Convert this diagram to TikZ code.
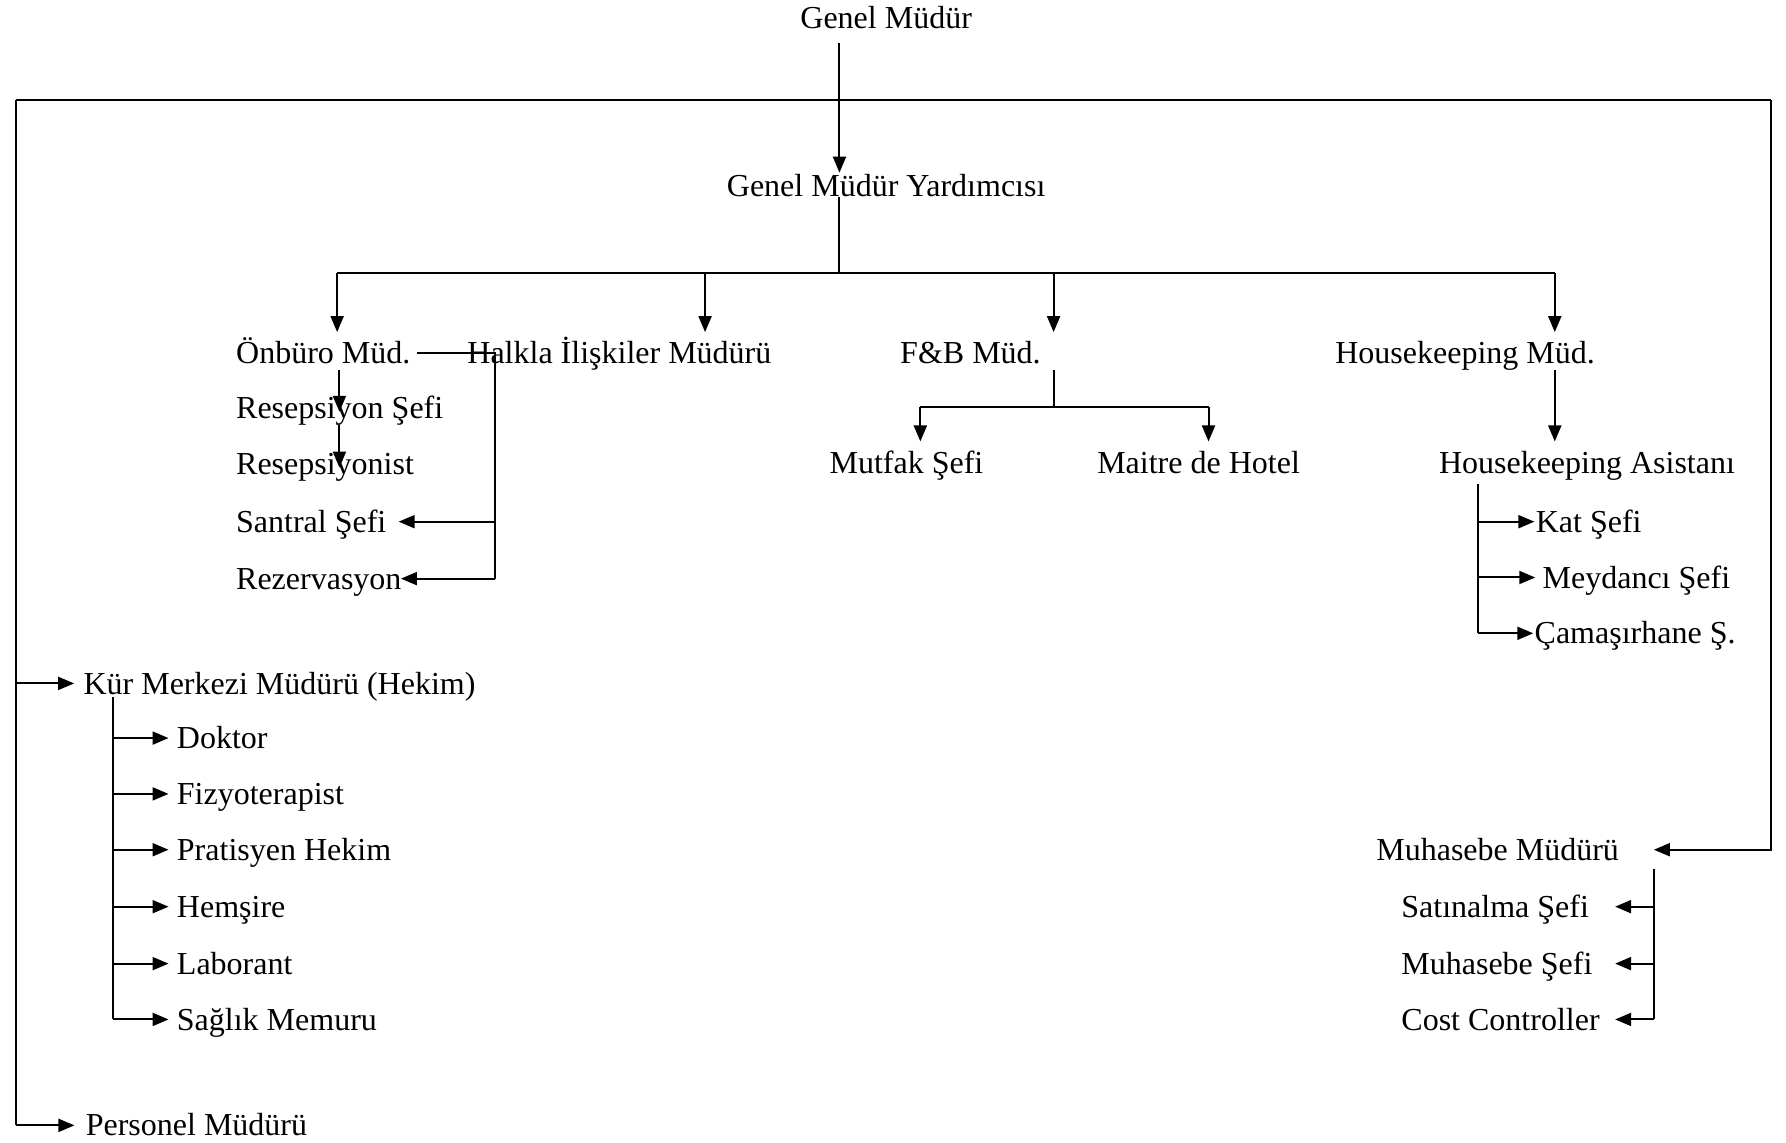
\documentclass[tikz,border=0pt]{standalone}
\usepackage{fontspec}
\setmainfont{Liberation Serif}
\usetikzlibrary{arrows.meta}
\begin{document}
\begin{tikzpicture}[x=0.5695pt,y=-0.5695pt,
  lbl/.style={inner sep=0pt,anchor=west,font=\fontsize{16}{19}\selectfont,text height=10.6pt,text depth=0pt},
  ctr/.style={lbl,anchor=center},
  ln/.style={line width=1pt},
  arr/.style={line width=1pt,-{Triangle[length=8pt,width=6.5pt]}}]
\useasboundingbox[fill=white] (0,0) rectangle (1568,1003);

% nodes
\node[ctr] (gm)  at (778,16)  {Genel Müdür};
\node[ctr] (gmy) at (778,163) {Genel Müdür Yardımcısı};
\node[lbl] (onb) at (207,310) {Önbüro Müd.};
\node[lbl] (hal) at (410,310) {Halkla İlişkiler Müdürü};
\node[lbl] (fb)  at (790,310) {F\&B Müd.};
\node[lbl] (hk)  at (1172,310) {Housekeeping Müd.};
\node[lbl] (rs)  at (207,358) {Resepsiyon Şefi};
\node[lbl] (rn)  at (207,407) {Resepsiyonist};
\node[lbl] (ss)  at (207,458) {Santral Şefi};
\node[lbl] (rz)  at (207,508) {Rezervasyon};
\node[lbl] (mf)  at (728,406) {Mutfak Şefi};
\node[lbl] (mh)  at (963,406) {Maitre de Hotel};
\node[lbl] (hka) at (1263,406) {Housekeeping Asistanı};
\node[lbl] (kat) at (1348,458) {Kat Şefi};
\node[lbl] (mey) at (1354,507) {Meydancı Şefi};
\node[lbl] (cam) at (1347,556) {Çamaşırhane Ş.};
\node[lbl] (kur) at (73,600)  {Kür Merkezi Müdürü (Hekim)};
\node[lbl] (dok) at (155,648) {Doktor};
\node[lbl] (fiz) at (155,697) {Fizyoterapist};
\node[lbl] (pra) at (155,746) {Pratisyen Hekim};
\node[lbl] (hem) at (155,796) {Hemşire};
\node[lbl] (lab) at (155,846) {Laborant};
\node[lbl] (sag) at (155,895) {Sağlık Memuru};
\node[lbl] (per) at (75,988)  {Personel Müdürü};
\node[lbl] (muh) at (1208,746) {Muhasebe Müdürü};
\node[lbl] (sat) at (1230,796) {Satınalma Şefi};
\node[lbl] (mse) at (1230,846) {Muhasebe Şefi};
\node[lbl] (cc)  at (1230,895) {Cost Controller};

% junction coordinates
\coordinate (gmx)  at (737,38);
\coordinate (tl)   at (14,88);
\coordinate (tr)   at (1555,88);
\coordinate (bar)  at (737,240);
\coordinate (barL) at (296,240);
\coordinate (barH) at (619,240);
\coordinate (barF) at (925,240);
\coordinate (barR) at (1365,240);
\coordinate (ox)   at (298,0);
\coordinate (os)   at (366,310);
\coordinate (hv)   at (435,310);
\coordinate (st)   at (350,0);
\coordinate (rt)   at (352,0);
\coordinate (fbv)  at (925,357);
\coordinate (fl)   at (808,357);
\coordinate (fr)   at (1061,357);
\coordinate (hx)   at (1298,425);
\coordinate (kx)   at (99,612);
\coordinate (mx)   at (1452,763);
\coordinate (mt)   at (1418,0);

% top
\draw[arr] (gmx) -- ([yshift=1pt]gmx |- gmy.north);
\draw[ln] (tl) -- (tr);
\draw[ln] (gmx |- gmy.south) -- (bar);
\draw[ln] (barL) -- (barR);
\draw[arr] (barL) -- ([yshift=5pt]barL |- onb.north);
\draw[arr] (barH) -- ([yshift=5pt]barH |- hal.north);
\draw[arr] (barF) -- ([yshift=5pt]barF |- fb.north);
\draw[arr] (barR) -- ([yshift=5pt]barR |- hk.north);

% left outer
\draw[ln] (tl) -- (tl |- per.west);
\draw[arr] (tl |- kur.west) -- ([xshift=-4.5pt]kur.west);
\draw[arr] (tl |- per.west) -- ([xshift=-5.5pt]per.west);

% right outer
\draw[arr] (tr) |- (mx |- muh.east);

% Önbüro
\draw[arr] ([yshift=-3pt]ox |- onb.south) -- ([yshift=-2pt]ox |- rs.west);
\draw[arr] ([yshift=-3pt]ox |- rs.south) -- ([yshift=-2pt]ox |- rn.west);
\draw[ln] (os) -- (hv) -- (hv |- rz.east);
\draw[arr] (hv |- ss.east) -- (st |- ss.east);
\draw[arr] (hv |- rz.east) -- (rt |- rz.east);

% F&B
\draw[ln] ([yshift=-3pt]fbv |- fb.south) -- (fbv);
\draw[ln] (fl) -- (fr);
\draw[arr] (fl) -- ([yshift=5pt]fl |- mf.north);
\draw[arr] (fr) -- ([yshift=5pt]fr |- mh.north);

% Housekeeping
\draw[arr] ([yshift=-3pt]barR |- hk.south) -- ([yshift=5pt]barR |- hka.north);
\draw[ln] (hx) -- (hx |- cam.west);
\draw[arr] (hx |- kat.west) -- ([xshift=-0.5pt]kat.west);
\draw[arr] (hx |- mey.west) -- ([xshift=-3.5pt]mey.west);
\draw[arr] (hx |- cam.west) -- ([xshift=-0.5pt]cam.west);

% Kür Merkezi
\draw[ln] (kx) -- (kx |- sag.west);
\foreach \n in {dok,fiz,pra,hem,lab,sag}
  \draw[arr] (kx |- \n.west) -- ([xshift=-4pt]\n.west);

% Muhasebe
\draw[ln] (mx) -- (mx |- cc.east);
\foreach \n in {sat,mse,cc}
  \draw[arr] (mx |- \n.east) -- (mt |- \n.east);
\end{tikzpicture}
\end{document}
